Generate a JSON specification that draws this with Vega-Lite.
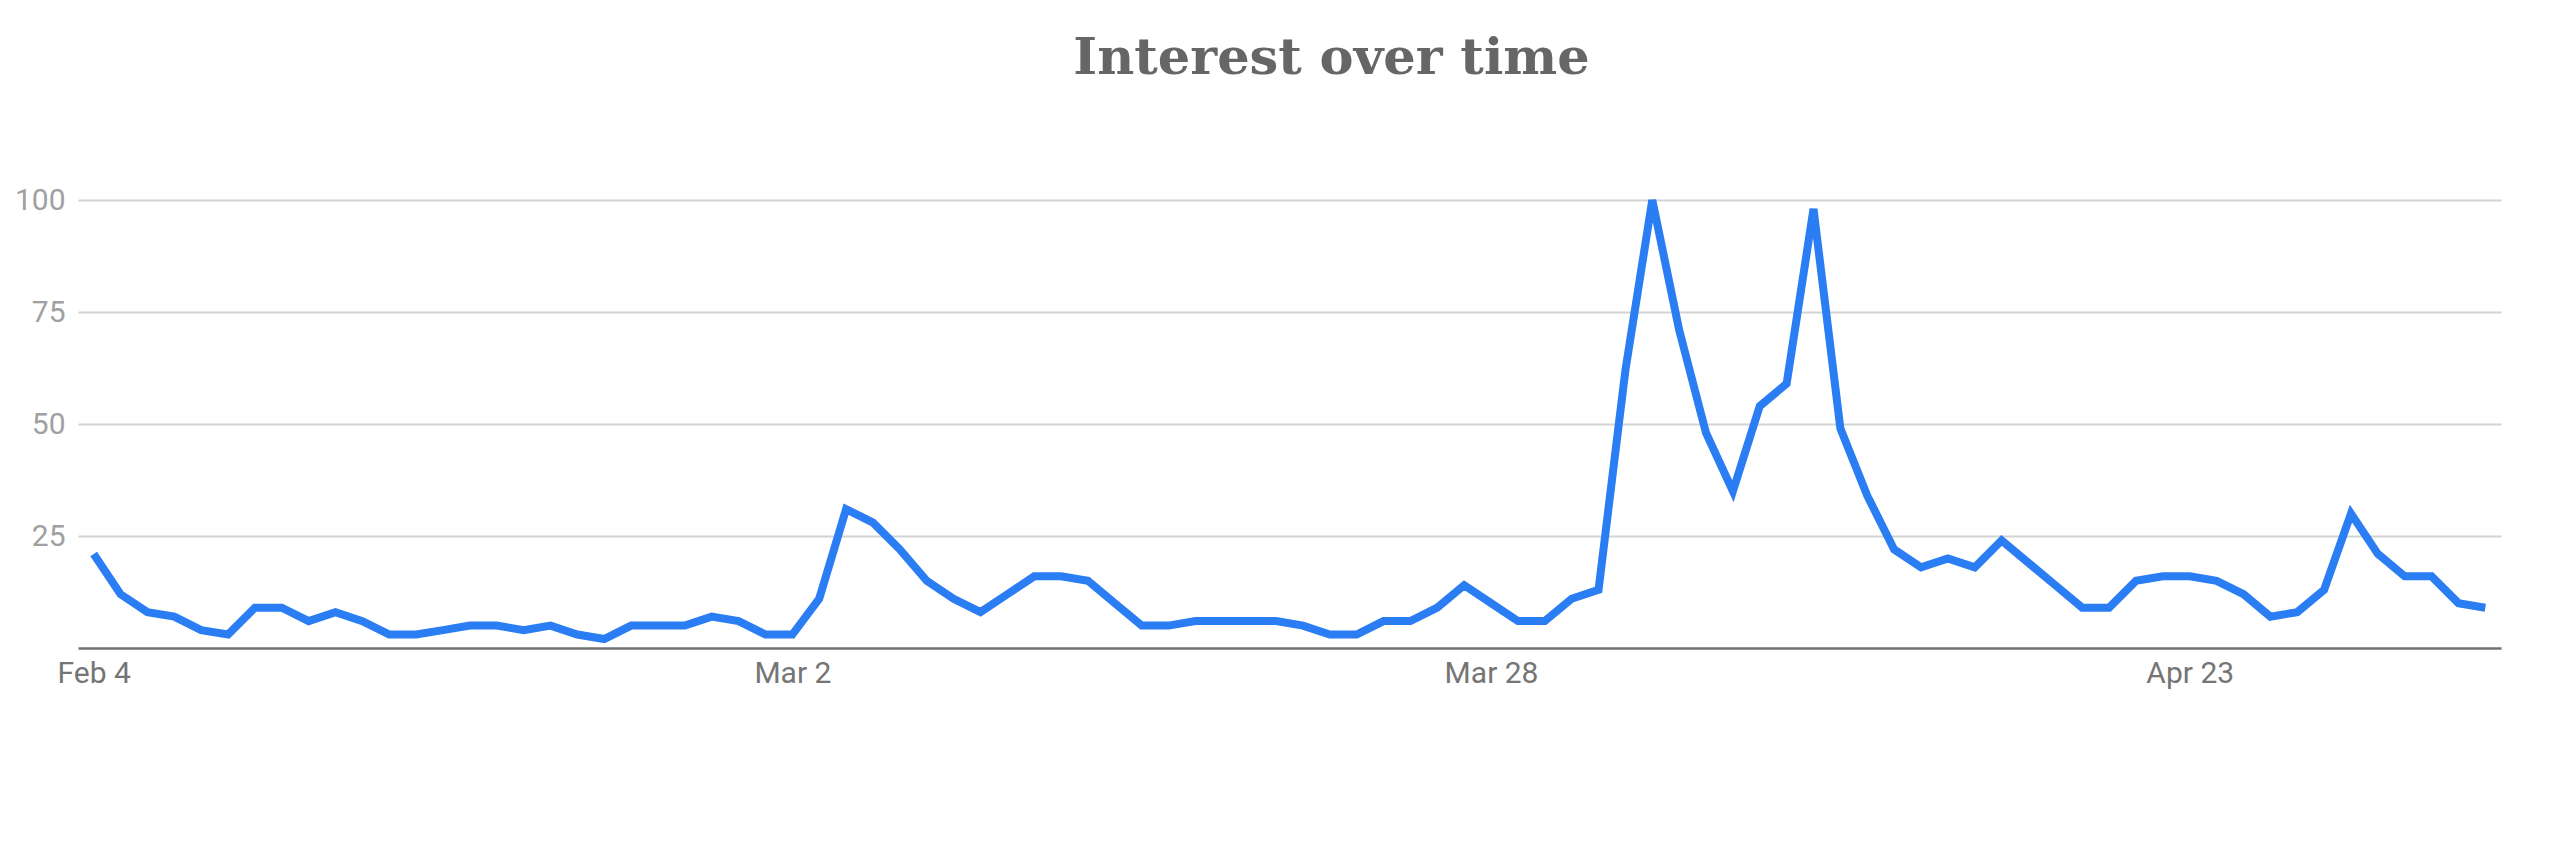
{
  "$schema": "https://vega.github.io/schema/vega-lite/v6.json",
  "width": 2423,
  "height": 448,
  "autosize": {"type": "none"},
  "padding": {"left": 78, "top": 200, "right": 59, "bottom": 201},
  "background": "#ffffff",
  "title": {
    "text": "Interest over time",
    "font": "DejaVu Serif",
    "fontSize": 51,
    "fontWeight": "bold",
    "color": "#666666",
    "anchor": "middle",
    "frame": "group",
    "baseline": "alphabetic",
    "offset": 59,
    "dx": 42
  },
  "config": {
    "view": {"stroke": null},
    "axis": {"labelFont": "Roboto", "labelFontSize": 30, "ticks": false}
  },
  "data": {
    "values": [
      {"date": "2019-02-04T00:00:00", "value": 21},
      {"date": "2019-02-05T00:00:00", "value": 12},
      {"date": "2019-02-06T00:00:00", "value": 8},
      {"date": "2019-02-07T00:00:00", "value": 7},
      {"date": "2019-02-08T00:00:00", "value": 4},
      {"date": "2019-02-09T00:00:00", "value": 3},
      {"date": "2019-02-10T00:00:00", "value": 9},
      {"date": "2019-02-11T00:00:00", "value": 9},
      {"date": "2019-02-12T00:00:00", "value": 6},
      {"date": "2019-02-13T00:00:00", "value": 8},
      {"date": "2019-02-14T00:00:00", "value": 6},
      {"date": "2019-02-15T00:00:00", "value": 3},
      {"date": "2019-02-16T00:00:00", "value": 3},
      {"date": "2019-02-17T00:00:00", "value": 4},
      {"date": "2019-02-18T00:00:00", "value": 5},
      {"date": "2019-02-19T00:00:00", "value": 5},
      {"date": "2019-02-20T00:00:00", "value": 4},
      {"date": "2019-02-21T00:00:00", "value": 5},
      {"date": "2019-02-22T00:00:00", "value": 3},
      {"date": "2019-02-23T00:00:00", "value": 2},
      {"date": "2019-02-24T00:00:00", "value": 5},
      {"date": "2019-02-25T00:00:00", "value": 5},
      {"date": "2019-02-26T00:00:00", "value": 5},
      {"date": "2019-02-27T00:00:00", "value": 7},
      {"date": "2019-02-28T00:00:00", "value": 6},
      {"date": "2019-03-01T00:00:00", "value": 3},
      {"date": "2019-03-02T00:00:00", "value": 3},
      {"date": "2019-03-03T00:00:00", "value": 11},
      {"date": "2019-03-04T00:00:00", "value": 31},
      {"date": "2019-03-05T00:00:00", "value": 28},
      {"date": "2019-03-06T00:00:00", "value": 22},
      {"date": "2019-03-07T00:00:00", "value": 15},
      {"date": "2019-03-08T00:00:00", "value": 11},
      {"date": "2019-03-09T00:00:00", "value": 8},
      {"date": "2019-03-10T00:00:00", "value": 12},
      {"date": "2019-03-11T00:00:00", "value": 16},
      {"date": "2019-03-12T00:00:00", "value": 16},
      {"date": "2019-03-13T00:00:00", "value": 15},
      {"date": "2019-03-14T00:00:00", "value": 10},
      {"date": "2019-03-15T00:00:00", "value": 5},
      {"date": "2019-03-16T00:00:00", "value": 5},
      {"date": "2019-03-17T00:00:00", "value": 6},
      {"date": "2019-03-18T00:00:00", "value": 6},
      {"date": "2019-03-19T00:00:00", "value": 6},
      {"date": "2019-03-20T00:00:00", "value": 6},
      {"date": "2019-03-21T00:00:00", "value": 5},
      {"date": "2019-03-22T00:00:00", "value": 3},
      {"date": "2019-03-23T00:00:00", "value": 3},
      {"date": "2019-03-24T00:00:00", "value": 6},
      {"date": "2019-03-25T00:00:00", "value": 6},
      {"date": "2019-03-26T00:00:00", "value": 9},
      {"date": "2019-03-27T00:00:00", "value": 14},
      {"date": "2019-03-28T00:00:00", "value": 10},
      {"date": "2019-03-29T00:00:00", "value": 6},
      {"date": "2019-03-30T00:00:00", "value": 6},
      {"date": "2019-03-31T00:00:00", "value": 11},
      {"date": "2019-04-01T00:00:00", "value": 13},
      {"date": "2019-04-02T00:00:00", "value": 62},
      {"date": "2019-04-03T00:00:00", "value": 100},
      {"date": "2019-04-04T00:00:00", "value": 71},
      {"date": "2019-04-05T00:00:00", "value": 48},
      {"date": "2019-04-06T00:00:00", "value": 35},
      {"date": "2019-04-07T00:00:00", "value": 54},
      {"date": "2019-04-08T00:00:00", "value": 59},
      {"date": "2019-04-09T00:00:00", "value": 98},
      {"date": "2019-04-10T00:00:00", "value": 49},
      {"date": "2019-04-11T00:00:00", "value": 34},
      {"date": "2019-04-12T00:00:00", "value": 22},
      {"date": "2019-04-13T00:00:00", "value": 18},
      {"date": "2019-04-14T00:00:00", "value": 20},
      {"date": "2019-04-15T00:00:00", "value": 18},
      {"date": "2019-04-16T00:00:00", "value": 24},
      {"date": "2019-04-17T00:00:00", "value": 19},
      {"date": "2019-04-18T00:00:00", "value": 14},
      {"date": "2019-04-19T00:00:00", "value": 9},
      {"date": "2019-04-20T00:00:00", "value": 9},
      {"date": "2019-04-21T00:00:00", "value": 15},
      {"date": "2019-04-22T00:00:00", "value": 16},
      {"date": "2019-04-23T00:00:00", "value": 16},
      {"date": "2019-04-24T00:00:00", "value": 15},
      {"date": "2019-04-25T00:00:00", "value": 12},
      {"date": "2019-04-26T00:00:00", "value": 7},
      {"date": "2019-04-27T00:00:00", "value": 8},
      {"date": "2019-04-28T00:00:00", "value": 13},
      {"date": "2019-04-29T00:00:00", "value": 30},
      {"date": "2019-04-30T00:00:00", "value": 21},
      {"date": "2019-05-01T00:00:00", "value": 16},
      {"date": "2019-05-02T00:00:00", "value": 16},
      {"date": "2019-05-03T00:00:00", "value": 10},
      {"date": "2019-05-04T00:00:00", "value": 9}
    ]
  },
  "mark": {"type": "line", "color": "#2a7df2", "strokeWidth": 8, "strokeJoin": "miter", "clip": false},
  "encoding": {
    "x": {
      "field": "date",
      "type": "temporal",
      "title": null,
      "scale": {
        "domain": [
          {"year": 2019, "month": 2, "date": 3, "hours": 10},
          {"year": 2019, "month": 5, "date": 4, "hours": 14}
        ]
      },
      "axis": {
        "values": [
          {"year": 2019, "month": 2, "date": 4},
          {"year": 2019, "month": 3, "date": 2},
          {"year": 2019, "month": 3, "date": 28},
          {"year": 2019, "month": 4, "date": 23}
        ],
        "format": "%b %-d",
        "grid": false,
        "domain": true,
        "domainColor": "#707070",
        "domainWidth": 2.5,
        "labelColor": "#757575",
        "labelPadding": 10,
        "labelFlush": false,
        "labelOverlap": false
      }
    },
    "y": {
      "field": "value",
      "type": "quantitative",
      "title": null,
      "scale": {"domain": [0, 100], "nice": false, "zero": true},
      "axis": {
        "values": [25, 50, 75, 100],
        "domain": false,
        "grid": true,
        "gridColor": "#d3d3d3",
        "gridWidth": 2,
        "labelColor": "#a0a0a0",
        "labelPadding": 13
      }
    }
  }
}
